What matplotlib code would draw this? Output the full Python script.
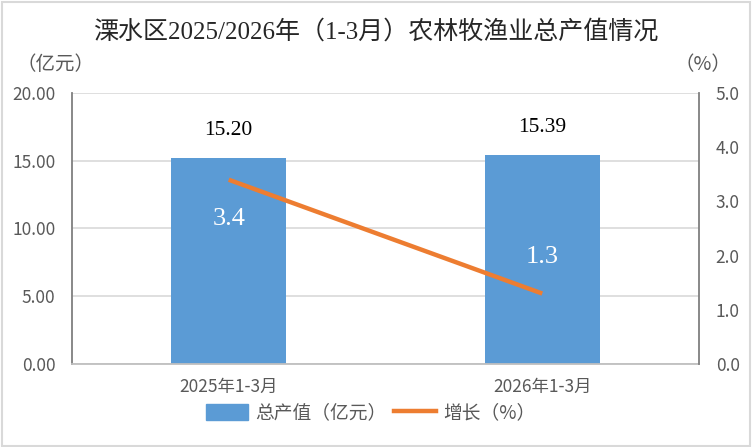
from matplotlib import pyplot as plt, patches
from matplotlib.lines import Line2D

categories = ['2025年1-3月', '2026年1-3月']
output_value = [15.20, 15.39]
growth = [3.4, 1.3]
left_ticks = [0, 5, 10, 15, 20]
right_ticks = [0, 1, 2, 3, 4, 5]

bar_color = '#5B9BD5'
line_color = '#ED7D31'
text_grey = '#595959'
serif = ['Liberation Serif', 'Noto Sans CJK SC']
narrow = ['Liberation Sans Narrow', 'Noto Sans CJK SC']

fig = plt.figure(figsize=(7.52, 4.47), dpi=100)
ax = fig.add_axes([72 / 752, 1 - 364 / 447, (699 - 72) / 752, (364 - 93) / 447])

# light border round the whole picture
fig.patches.append(patches.Rectangle((0.002, 0.003), 0.995, 0.993, transform=fig.transFigure,
                                     fill=False, edgecolor='#d9d9d9', linewidth=1.5))

x = list(range(len(categories)))
bars = ax.bar(x, output_value, width=0.366, color=bar_color, zorder=2)
ax.set_xlim(-0.5, 1.5)
ax.set_ylim(0, 20)
ax.set_yticks(left_ticks)
ax.set_yticklabels([f'{v:.2f}' for v in left_ticks], family=narrow, fontsize=12.5, color=text_grey)
ax.set_xticks(x)
ax.set_xticklabels(categories, family=narrow, fontsize=12.5, color=text_grey)
ax.tick_params(length=0, pad=12)
ax.tick_params(axis='x', pad=10)
ax.grid(axis='y', color='#d9d9d9', linewidth=1.2, zorder=0)
ax.set_axisbelow(True)
ax.spines['top'].set_visible(False)
ax.spines['left'].set_color('#7f7f7f')
ax.spines['left'].set_linewidth(1.3)
ax.spines['bottom'].set_color('#bfbfbf')
ax.spines['bottom'].set_linewidth(1.3)
ax.spines['right'].set_visible(False)

for b, v in zip(bars, output_value):
    ax.annotate(f'{v:.2f}', (b.get_x() + b.get_width() / 2, v), xytext=(0, 13), textcoords='offset points',
                ha='center', va='bottom', fontsize=15.5, family=serif, color='black')

ax2 = ax.twinx()
ax2.plot(x, growth, color=line_color, linewidth=3.2, solid_capstyle='butt', zorder=3)
ax2.set_ylim(0, 5)
ax2.set_yticks(right_ticks)
ax2.set_yticklabels([f'{v:.1f}' for v in right_ticks], family=narrow, fontsize=12.5, color=text_grey)
ax2.tick_params(length=0, pad=12)
for s in ['top', 'left', 'bottom']:
    ax2.spines[s].set_visible(False)
ax2.spines['right'].set_color('#7f7f7f')
ax2.spines['right'].set_linewidth(1.3)

offsets = [-28, 26]
for xi, v, off in zip(x, growth, offsets):
    ax2.annotate(f'{v:.1f}', (xi, v), xytext=(0, off), textcoords='offset points',
                 ha='center', va='center', fontsize=19, family=serif, color='white')

fig.text(0.5, 1 - 32 / 447, '溧水区2025/2026年（1-3月）农林牧渔业总产值情况', ha='center', va='center',
         fontsize=18, family=serif, color='#262626')
fig.text(55 / 752, 1 - 65 / 447, '（亿元）', ha='center', va='center', fontsize=14, family=narrow, color=text_grey)
fig.text(703 / 752, 1 - 65 / 447, '（%）', ha='center', va='center', fontsize=14, family=narrow, color=text_grey)

handles = [patches.Patch(color=bar_color), Line2D([0], [0], color=line_color, linewidth=3.2)]
leg = fig.legend(handles, ['总产值（亿元）', '增长（%）'], loc='center', bbox_to_anchor=(0.493, 1 - 413 / 447),
                 ncol=2, frameon=False, prop={'family': narrow, 'size': 13.5}, handlelength=2.25,
                 handleheight=0.9, columnspacing=0.4, handletextpad=0.4)
for t in leg.get_texts():
    t.set_color(text_grey)

fig.savefig('out.png', dpi=100)
